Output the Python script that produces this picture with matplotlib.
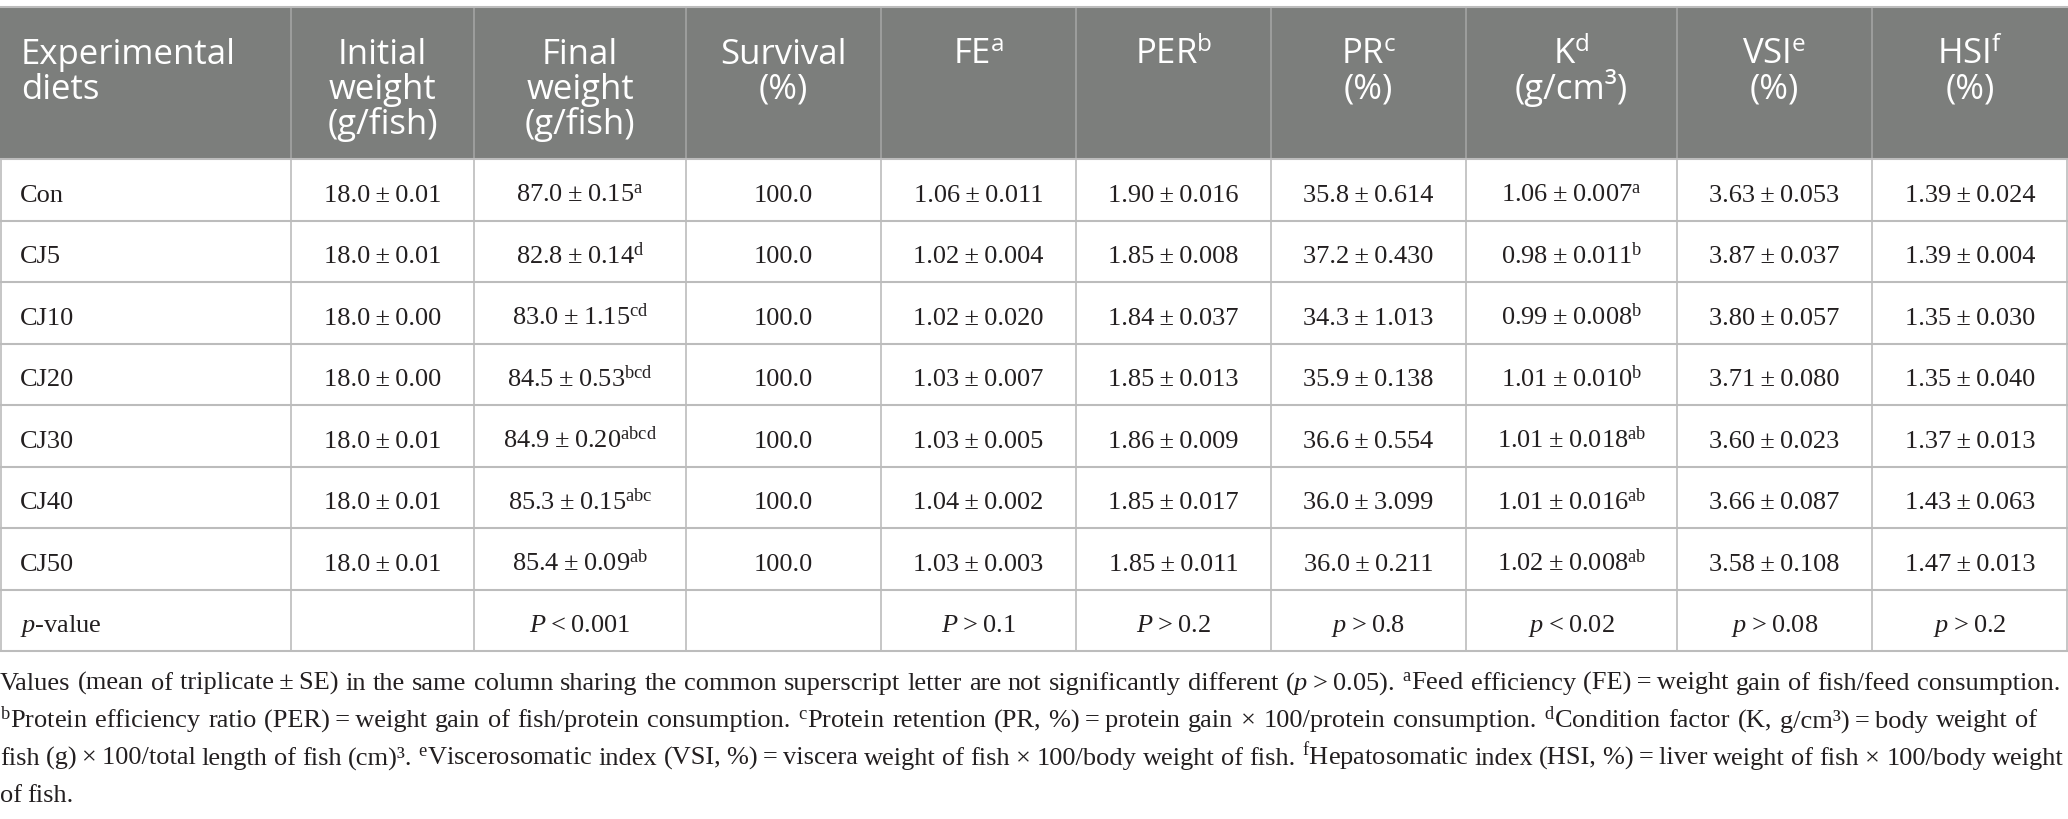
import matplotlib
matplotlib.use("Agg")
import matplotlib.pyplot as plt

plt.rcParams['mathtext.fontset'] = 'custom'
plt.rcParams['mathtext.rm'] = 'Liberation Serif'
plt.rcParams['mathtext.it'] = 'Liberation Serif:italic'
plt.rcParams['mathtext.sf'] = 'Open Sans'

# ---- data -------------------------------------------------------------
diets = ['Con', 'CJ5', 'CJ10', 'CJ20', 'CJ30', 'CJ40', 'CJ50']

initial_mean = [18.0, 18.0, 18.0, 18.0, 18.0, 18.0, 18.0]
initial_se = [0.01, 0.01, 0.00, 0.00, 0.01, 0.01, 0.01]
final_mean = [87.0, 82.8, 83.0, 84.5, 84.9, 85.3, 85.4]
final_se = [0.15, 0.14, 1.15, 0.53, 0.20, 0.15, 0.09]
final_sup = ['a', 'd', 'cd', 'bcd', 'abcd', 'abc', 'ab']
survival = [100.0, 100.0, 100.0, 100.0, 100.0, 100.0, 100.0]
fe_mean = [1.06, 1.02, 1.02, 1.03, 1.03, 1.04, 1.03]
fe_se = [0.011, 0.004, 0.020, 0.007, 0.005, 0.002, 0.003]
per_mean = [1.90, 1.85, 1.84, 1.85, 1.86, 1.85, 1.85]
per_se = [0.016, 0.008, 0.037, 0.013, 0.009, 0.017, 0.011]
pr_mean = [35.8, 37.2, 34.3, 35.9, 36.6, 36.0, 36.0]
pr_se = [0.614, 0.430, 1.013, 0.138, 0.554, 3.099, 0.211]
k_mean = [1.06, 0.98, 0.99, 1.01, 1.01, 1.01, 1.02]
k_se = [0.007, 0.011, 0.008, 0.010, 0.018, 0.016, 0.008]
k_sup = ['a', 'b', 'b', 'b', 'ab', 'ab', 'ab']
vsi_mean = [3.63, 3.87, 3.80, 3.71, 3.60, 3.66, 3.58]
vsi_se = [0.053, 0.037, 0.057, 0.080, 0.023, 0.087, 0.108]
hsi_mean = [1.39, 1.39, 1.35, 1.35, 1.37, 1.43, 1.47]
hsi_se = [0.024, 0.004, 0.030, 0.040, 0.013, 0.063, 0.013]

# first letter of each p entry is set in italics
p_values = ['', 'P < 0.001', '', 'P > 0.1', 'P > 0.2', 'p > 0.8',
            'p < 0.02', 'p > 0.08', 'p > 0.2']

headers = [['Experimental', 'diets'],
           ['Initial', 'weight', '(g/fish)'],
           ['Final', 'weight', '(g/fish)'],
           ['Survival', '(%)'],
           [r'FE$^{\mathsf{a}}$'],
           [r'PER$^{\mathsf{b}}$'],
           [r'PR$^{\mathsf{c}}$', '(%)'],
           [r'K$^{\mathsf{d}}$', '(g/cm³)'],
           [r'VSI$^{\mathsf{e}}$', '(%)'],
           [r'HSI$^{\mathsf{f}}$', '(%)']]

footnote = [
    "Values (mean of triplicate\u2009±\u2009SE) in the same column sharing the common "
    "superscript letter are not significantly different ($p$\u2009>\u20090.05). "
    "$^{\\mathrm{a}}$Feed efficiency (FE)\u2009=\u2009weight gain of fish/feed consumption.",
    "$^{\\mathrm{b}}$Protein efficiency ratio (PER)\u2009=\u2009weight gain of fish/protein "
    "consumption. $^{\\mathrm{c}}$Protein retention (PR, %)\u2009=\u2009protein gain × "
    "100/protein consumption. $^{\\mathrm{d}}$Condition factor (K, g/cm³)\u2009=\u2009body weight of",
    "fish (g)\u2009×\u2009100/total length of fish (cm)³. $^{\\mathrm{e}}$Viscerosomatic index "
    "(VSI, %)\u2009=\u2009viscera weight of fish × 100/body weight of fish. "
    "$^{\\mathrm{f}}$Hepatosomatic index (HSI, %)\u2009=\u2009liver weight of fish × 100/body weight",
    "of fish.",
]


def pm(mean, se, dm, ds, sup=''):
    s = f"{mean:.{dm}f}\u2009±\u2009{se:.{ds}f}"
    if sup:
        s += r"$^{\mathrm{" + sup + "}}$"
    return s


columns = [
    diets,
    [pm(m, s, 1, 2) for m, s in zip(initial_mean, initial_se)],
    [pm(m, s, 1, 2, l) for m, s, l in zip(final_mean, final_se, final_sup)],
    [f"{v:.1f}" for v in survival],
    [pm(m, s, 2, 3) for m, s in zip(fe_mean, fe_se)],
    [pm(m, s, 2, 3) for m, s in zip(per_mean, per_se)],
    [pm(m, s, 1, 3) for m, s in zip(pr_mean, pr_se)],
    [pm(m, s, 2, 3, l) for m, s, l in zip(k_mean, k_se, k_sup)],
    [pm(m, s, 2, 3) for m, s in zip(vsi_mean, vsi_se)],
    [pm(m, s, 2, 3) for m, s in zip(hsi_mean, hsi_se)],
]
p_row = ['$p$-value'] + [('$' + p[0] + '$' + p[1:].replace(' ', '\u2009')) if p else ''
                         for p in p_values]

# ---- layout -----------------------------------------------------------
W, H = 2068, 820
col_edges = [0, 291, 474, 686, 881, 1076, 1271, 1466, 1677, 1872, 2068]
head_top, head_bot = 8, 160
row_h = 61.5
n_rows = len(diets) + 1
table_bot = head_bot + n_rows * row_h

SERIF = ['Liberation Serif', 'DejaVu Serif']
SANS = ['Open Sans', 'DejaVu Sans']
INK = '#231f20'
HEAD_BG = '#7c7e7c'
GRID = '#bcbcbc'

fig = plt.figure(figsize=(W / 100, H / 100), dpi=100)
ax = fig.add_axes([0, 0, 1, 1])
ax.set_xlim(0, W)
ax.set_ylim(H, 0)
ax.axis('off')

# header band
ax.fill_between([0, W], head_top, head_bot, color=HEAD_BG, lw=0)
ax.vlines(col_edges[1:-1], head_top, head_bot, color='#a3a4a3', lw=1.2)
ax.hlines(head_top, 0, W, color=GRID, lw=1.5)

# body grid
row_lines = [head_bot + i * row_h for i in range(n_rows + 1)]
ax.hlines(row_lines, 0, W, color=GRID, lw=1.5)
ax.vlines(col_edges[1:-1], head_bot, table_bot, color=GRID, lw=1.2)
ax.vlines([0.6, W - 0.6], head_bot, table_bot, color=GRID, lw=1.2)

# header text
head_base = [64, 99, 134]
for j, lines in enumerate(headers):
    for k, txt in enumerate(lines):
        if j == 0:
            x, ha = 21, 'left'
        else:
            x, ha = (col_edges[j] + col_edges[j + 1]) / 2, 'center'
        ax.text(x, head_base[k], txt, ha=ha, va='baseline', color='white',
                fontsize=25, family=SANS)

# body text
all_rows = [[col[i] for col in columns] for i in range(len(diets))] + [p_row]
for i, row in enumerate(all_rows):
    yb = head_bot + i * row_h + 42
    for j, txt in enumerate(row):
        if not txt:
            continue
        if j == 0:
            x, ha = 20, 'left'
        else:
            x, ha = (col_edges[j] + col_edges[j + 1]) / 2, 'center'
        ax.text(x, yb, txt, ha=ha, va='baseline', color=INK,
                fontsize=19, family=SERIF)

# footnote, justified like the source
foot_base = [690, 727.5, 765, 802.5]
foot_right = [2060, 2037, 2064, None]
fig.canvas.draw()
renderer = fig.canvas.get_renderer()
for line, yb, right in zip(footnote, foot_base, foot_right):
    words = line.split(' ')
    arts = [ax.text(0, yb, w, ha='left', va='baseline', color=INK,
                    fontsize=19, family=SERIF) for w in words]
    widths = [a.get_window_extent(renderer).width for a in arts]
    if right is None or len(words) < 2:
        gap = 5
    else:
        gap = (right - sum(widths)) / (len(words) - 1)
    x = 0
    for a, w in zip(arts, widths):
        a.set_x(x)
        x += w + gap

fig.savefig('out.png', dpi=100)
